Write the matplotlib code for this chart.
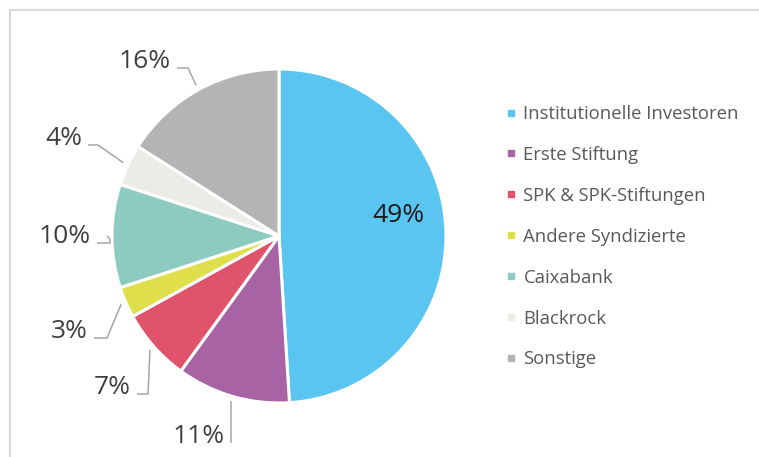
import numpy as np
import matplotlib
matplotlib.use('Agg')
import matplotlib.pyplot as plt
from matplotlib.lines import Line2D

plt.rcParams['font.family'] = ['Open Sans', 'DejaVu Sans']

labels = ['Institutionelle Investoren', 'Erste Stiftung', 'SPK & SPK-Stiftungen',
          'Andere Syndizierte', 'Caixabank', 'Blackrock', 'Sonstige']
values = [49, 11, 7, 3, 10, 4, 16]
colors = ['#5BC5F2', '#A763A4', '#E0546B', '#DEDF4B', '#8DCBC1', '#ECECE6', '#B4B4B4']

# layout in pixels (figure 759x457)
W, H = 759, 457
CX, CY, R = 279, 236, 167


def px(x, y):
    return (x - CX) / R, (CY - y) / R


# elbow / end of leader lines for outside labels (pixels), None = inside label
leaders = [
    None,
    [(231, 443)],
    [(148, 394), (137, 394)],
    [(107, 338), (94, 338)],
    [(110, 239), (110, 243), (97, 243)],
    [(98, 145), (88, 145)],
    [(188, 68), (177, 68)],
]

fig = plt.figure(figsize=(W / 100, H / 100), dpi=100)
ax = fig.add_axes([0, 0, 1, 1])

wedges, _ = ax.pie(values, colors=colors, startangle=90, counterclock=False, radius=1,
                   wedgeprops=dict(edgecolor='white', linewidth=2.2))
ax.set_xlim(-CX / R, (W - CX) / R)
ax.set_ylim(-(H - CY) / R, CY / R)
ax.set_aspect('auto')
ax.axis('off')

for i, w in enumerate(wedges):
    mid = np.deg2rad((w.theta1 + w.theta2) / 2)
    txt = f'{values[i]}%'
    if leaders[i] is None:
        tx, ty = px(398, 216)
        ax.text(tx, ty, txt, ha='center', va='center', fontsize=19, color='#1A1A1A')
        continue
    pts = [(1.03 * np.cos(mid), 1.03 * np.sin(mid))]
    pts += [px(*p) for p in leaders[i]]
    xs, ys = zip(*pts)
    ax.plot(xs, ys, color='#A6A6A6', lw=1.1, solid_capstyle='butt')
    ex, ey = pts[-1]
    ax.text(ex - 6 / R, ey, txt, ha='right', va='baseline', fontsize=19, color='#404040')

# legend
handles = [Line2D([], [], marker='s', ls='none', markersize=5, color=c) for c in colors]
leg = fig.legend(handles, labels, loc='upper left', bbox_to_anchor=(505 / W, 1 - 105 / H),
                 frameon=False, fontsize=13.3, handlelength=0.6, handletextpad=0.4,
                 labelspacing=1.24, borderaxespad=0, borderpad=0)
for t in leg.get_texts():
    t.set_color('#595959')

# chart frame (top and left visible)
fig.add_artist(Line2D([10 / W, 1], [1 - 10 / H, 1 - 10 / H], transform=fig.transFigure,
                      color='#D9D9D9', lw=1.5))
fig.add_artist(Line2D([10 / W, 10 / W], [0, 1 - 10 / H], transform=fig.transFigure,
                      color='#D9D9D9', lw=1.5))

fig.savefig('out.png', dpi=100)
